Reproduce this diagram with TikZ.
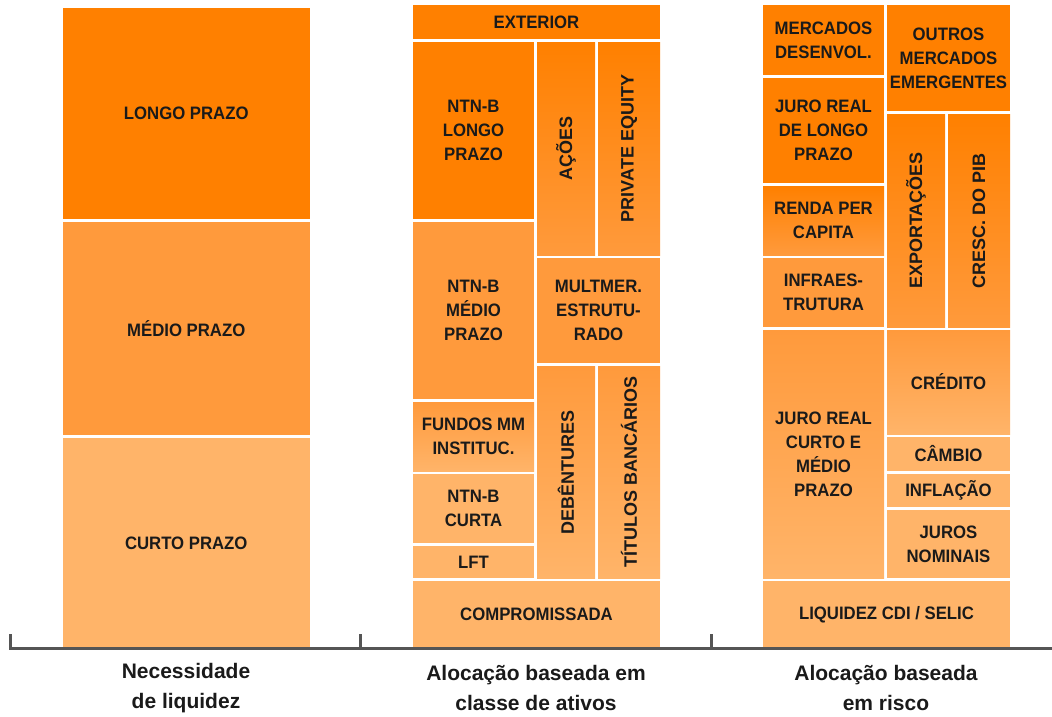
\documentclass[tikz,border=0pt]{standalone}
\usepackage{fontspec}
\setmainfont{Liberation Sans}
\newfontfamily\boxfont[FakeStretch=0.93]{Liberation Sans}
\definecolor{cD}{HTML}{FF8000}
\definecolor{cM}{HTML}{FF9A3C}
\definecolor{cL}{HTML}{FFB469}
\definecolor{txt}{HTML}{1A1A1A}
\definecolor{axis}{HTML}{555555}
\newcommand{\vtext}[1]{\rotatebox{90}{\fontsize{18}{24}\selectfont\mainfont\bfseries #1}}
\newcommand{\mainfont}{\normalfont}
\tikzset{
  box/.style={draw=none, inner sep=0pt, align=center, text=txt,
    font=\boxfont\fontsize{18}{24}\selectfont\bfseries},
  bw/.style 2 args={minimum width=#1pt, minimum height=#2pt},
  DD/.style={fill=cD},
  MM/.style={fill=cM},
  LL/.style={fill=cL},
  DM/.style={top color=cD, bottom color=cM},
  ML/.style={top color=cM, bottom color=cL},
  axisline/.style={draw=axis, line width=3pt},
  caption/.style={align=center, text=txt, font=\fontsize{21}{30}\selectfont\bfseries}
}
\begin{document}
\begin{tikzpicture}[x=1pt,y=-1pt]
\useasboundingbox (0,0) rectangle (1052,716);
% column 1
\node[box,DD,bw={247.5}{211}] (lp) at (186.25,113.5) {LONGO PRAZO};
\node[box,MM,bw={247.5}{213}] (mp) at (186.25,328.5) {MÉDIO PRAZO};
\node[box,LL,bw={247.5}{210}] (cp) at (186.25,543) {CURTO PRAZO};
% column 2
\node[box,DD,bw={247}{34}] (ext) at (536.5,22) {EXTERIOR};
\node[box,DD,bw={121}{177}] (nlp) at (473.5,130.5) {NTN-B\\LONGO\\PRAZO};
\node[box,DM,bw={58}{213}] (acoes) at (566,148.5) {\vtext{AÇÕES}};
\node[box,DM,bw={62}{213}] (pe) at (629,148.5) {\vtext{PRIVATE EQUITY}};
\node[box,MM,bw={121}{177}] (nmp) at (473.5,310.5) {NTN-B\\MÉDIO\\PRAZO};
\node[box,MM,bw={123}{105}] (mult) at (598.5,310.5) {MULTMER.\\ESTRUTU-\\RADO};
\node[box,ML,bw={58}{212}] (deb) at (566,472) {\vtext{DEBÊNTURES}};
\node[box,ML,bw={62}{212}] (tit) at (629,472) {\vtext{TÍTULOS BANCÁRIOS}};
\node[box,ML,bw={121}{69}] (fmm) at (473.5,436.5) {FUNDOS MM\\INSTITUC.};
\node[box,LL,bw={121}{69}] (nc) at (473.5,508.5) {NTN-B\\CURTA};
\node[box,LL,bw={121}{32}] (lft) at (473.5,562) {LFT};
\node[box,LL,bw={247}{67}] (comp) at (536.5,614.5) {COMPROMISSADA};
% column 3
\node[box,DD,bw={121}{70}] (md) at (823.5,40) {MERCADOS\\DESENVOL.};
\node[box,DD,bw={123}{106}] (ome) at (948.5,58) {OUTROS\\MERCADOS\\EMERGENTES};
\node[box,DD,bw={121}{105}] (jrl) at (823.5,130.5) {JURO REAL\\DE LONGO\\PRAZO};
\node[box,DM,bw={121}{69}] (rpc) at (823.5,220.5) {RENDA PER\\CAPITA};
\node[box,DM,bw={58}{213}] (exp) at (916,220.5) {\vtext{EXPORTAÇÕES}};
\node[box,DM,bw={62}{213}] (pib) at (979,220.5) {\vtext{CRESC. DO PIB}};
\node[box,MM,bw={121}{69}] (infra) at (823.5,292.5) {INFRAES-\\TRUTURA};
\node[box,ML,bw={121}{248}] (jrc) at (823.5,454) {JURO REAL\\CURTO E\\MÉDIO\\PRAZO};
\node[box,ML,bw={123}{104}] (cred) at (948.5,382) {CRÉDITO};
\node[box,LL,bw={123}{34}] (camb) at (948.5,454) {CÂMBIO};
\node[box,LL,bw={123}{33}] (infl) at (948.5,490.5) {INFLAÇÃO};
\node[box,LL,bw={123}{68}] (jn) at (948.5,544) {JUROS\\NOMINAIS};
\node[box,LL,bw={247}{67}] (liq) at (886.5,614.5) {LIQUIDEZ CDI / SELIC};
% axis
\coordinate (t1) at (10,634);
\coordinate (b1) at (10,648);
\coordinate (t2) at (360,634);
\coordinate (b2) at (360,648);
\coordinate (t3) at (711,634);
\coordinate (b3) at (711,648);
\coordinate (bend) at (1052,648);
\draw[axisline] (t1) -- (b1) -- (bend);
\draw[axisline] (t2) -- (b2);
\draw[axisline] (t3) -- (b3);
% captions
\node[caption] (c1) at (186,688) {Necessidade\\de liquidez};
\node[caption] (c2) at (536,688) {Alocação baseada em\\classe de ativos};
\node[caption] (c3) at (886,688) {Alocação baseada\\em risco};
\end{tikzpicture}
\end{document}
